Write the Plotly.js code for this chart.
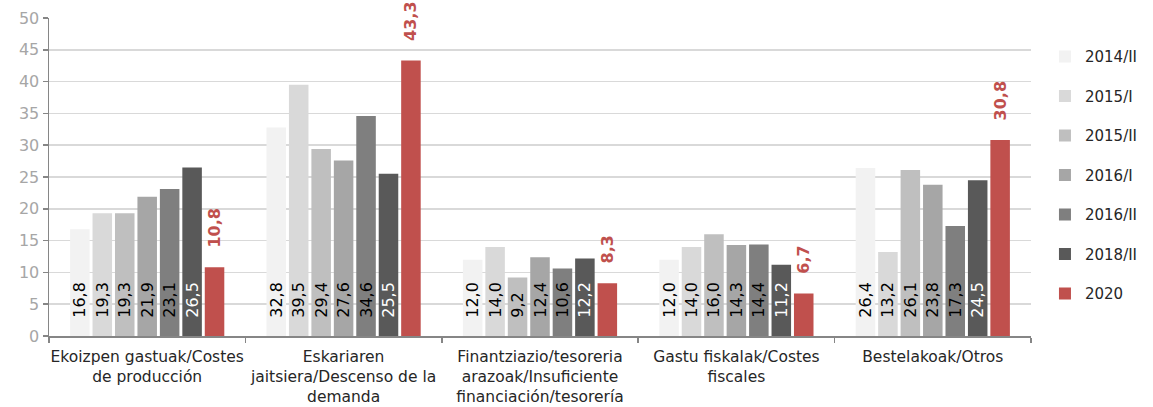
<!DOCTYPE html>
<html>
<head>
<meta charset="utf-8">
<script src="https://cdn.plot.ly/plotly-3.0.1.min.js"></script>
<style>html,body{margin:0;padding:0;background:#fff;}#chart{width:1153px;height:407px;}</style>
</head>
<body>
<div id="chart"></div>
<script>
const categories = [
  "Ekoizpen gastuak/Costes<br>de producción",
  "Eskariaren<br>jaitsiera/Descenso de la<br>demanda",
  "Finantziazio/tesoreria<br>arazoak/Insuficiente<br>financiación/tesorería",
  "Gastu fiskalak/Costes<br>fiscales",
  "Bestelakoak/Otros"
];
const seriesNames = ["2014/II", "2015/I", "2015/II", "2016/I", "2016/II", "2018/II", "2020"];
const s2014II = [16.8, 32.8, 12.0, 12.0, 26.4];
const s2015I  = [19.3, 39.5, 14.0, 14.0, 13.2];
const s2015II = [19.3, 29.4, 9.2, 16.0, 26.1];
const s2016I  = [21.9, 27.6, 12.4, 14.3, 23.8];
const s2016II = [23.1, 34.6, 10.6, 14.4, 17.3];
const s2018II = [26.5, 25.5, 12.2, 11.2, 24.5];
const s2020   = [10.8, 43.3, 8.3, 6.7, 30.8];
const yTicks = [0, 5, 10, 15, 20, 25, 30, 35, 40, 45, 50];

const seriesValues = [s2014II, s2015I, s2015II, s2016I, s2016II, s2018II, s2020];
const barColors = ["#f2f2f2", "#d9d9d9", "#bfbfbf", "#a6a6a6", "#7f7f7f", "#595959", "#c0504d"];
const insideTextColors = ["#000", "#000", "#000", "#000", "#000", "#fff"];
const FONT = "DejaVu Sans, sans-serif";
const pad = "\u00a0\u00a0\u00a0";

const traces = seriesValues.map((vals, i) => {
  const last = i === seriesValues.length - 1;
  return {
    type: "bar",
    name: seriesNames[i],
    legendgroup: "g" + i,
    x: categories,
    y: vals,
    marker: {color: barColors[i]},
    texttemplate: pad + "%{y:.1f}",
    textposition: last ? "outside" : "inside",
    insidetextanchor: "start",
    textangle: -90,
    constraintext: "none",
    cliponaxis: false,
    textfont: last
      ? {family: FONT, size: 16, color: "#c0504d", weight: "bold"}
      : {family: FONT, size: 16, color: insideTextColors[i]},
    hoverinfo: "skip"
  };
});

const layout = {
  width: 1153,
  height: 407,
  margin: {l: 49, r: 122, t: 18, b: 71},
  paper_bgcolor: "#fff",
  plot_bgcolor: "#fff",
  separators: ", ",
  barmode: "group",
  bargap: 0.2,
  bargroupgap: 0.13,
  font: {family: FONT, size: 15, color: "#262626"},
  xaxis: {
    type: "category",
    tickson: "boundaries",
    ticks: "outside",
    ticklen: 5,
    tickcolor: "#868686",
    tickwidth: 1.5,
    tickangle: 0,
    ticklabelstandoff: 6,
    showline: true,
    linecolor: "#868686",
    linewidth: 1.5,
    showgrid: false,
    tickfont: {family: FONT, size: 15.5, color: "#262626"},
    automargin: false
  },
  yaxis: {
    range: [0, 50],
    tickvals: yTicks,
    ticktext: yTicks.map(String),
    ticks: "outside",
    ticklen: 5,
    tickcolor: "#868686",
    tickwidth: 1.5,
    showline: true,
    linecolor: "#868686",
    linewidth: 1.5,
    showgrid: true,
    gridcolor: "#d9d9d9",
    gridwidth: 1.5,
    zeroline: false,
    tickfont: {family: FONT, size: 16, color: "#a6a6a6"},
    automargin: false
  },
  legend: {
    xref: "container",
    x: 0.9063,
    xanchor: "left",
    y: 0.93,
    yanchor: "top",
    tracegroupgap: 17,
    font: {family: FONT, size: 15, color: "#262626"},
    bgcolor: "rgba(0,0,0,0)"
  },
  showlegend: true
};

Plotly.newPlot("chart", traces, layout, {staticPlot: true, displayModeBar: false});
</script>
</body>
</html>
